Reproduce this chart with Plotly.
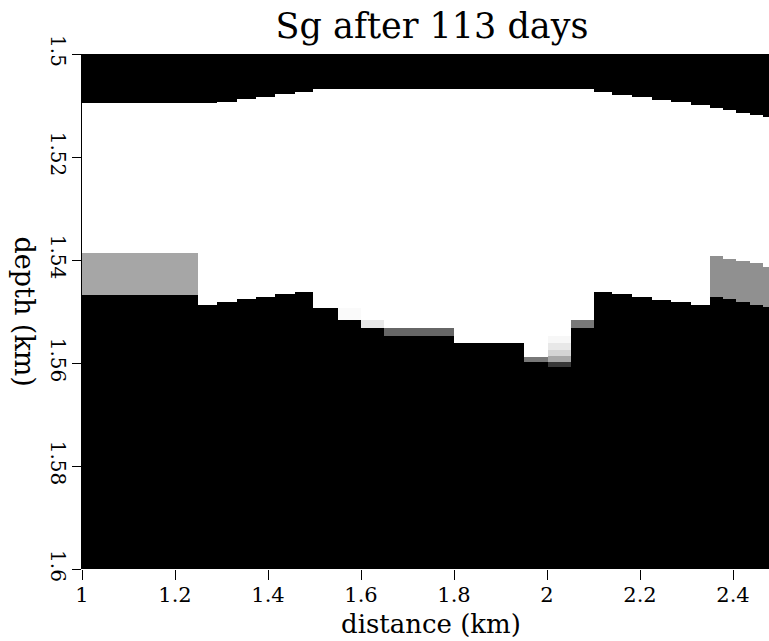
import numpy as np
import plotly.graph_objects as go

# ---- data ----
# column edges of the saturation grid (km)
x_edges = [1.0, 1.25, 1.29, 1.333, 1.3735, 1.415, 1.458, 1.4975, 1.5505, 1.6, 1.65,
           1.8005, 1.951, 2.0015, 2.051, 2.101, 2.1405, 2.1835, 2.2265, 2.266, 2.309,
           2.3515, 2.3785, 2.4075, 2.4365, 2.4645, 2.48]

# depth (km) where the gas (Sg = 1, white) region starts in each column
gas_top = [1.50957, 1.50957, 1.50926, 1.50874, 1.50829, 1.50777, 1.50732, 1.50680,
           1.50680, 1.50680, 1.50680, 1.50680, 1.50680, 1.50680, 1.50680, 1.50744,
           1.50790, 1.50841, 1.50893, 1.50938, 1.50990, 1.51043, 1.51087, 1.51140,
           1.51184, 1.51229]

# depth where a partially saturated band starts (equal to black_top -> no band)
band_top = [1.53870, 1.54874, 1.54822, 1.54763, 1.54718, 1.54666, 1.54616, 1.54926,
            1.54926, 1.55165, 1.55314, 1.55617, 1.55874, 1.55476, 1.55165, 1.54616,
            1.54666, 1.54713, 1.54771, 1.54816, 1.54874, 1.53917, 1.53975, 1.54019,
            1.54064, 1.54130]
band_sg = [0.65, 0, 0, 0, 0, 0, 0, 0, 0.98, 0.91, 0.40, 0, 0.47, 0.97, 0.47, 0,
           0, 0, 0, 0, 0, 0.565, 0.565, 0.565, 0.565, 0.565]
# depth where Sg drops to zero (black) below the gas
black_top = [1.54680, 1.54874, 1.54822, 1.54763, 1.54718, 1.54666, 1.54616, 1.54926,
             1.55165, 1.55314, 1.55476, 1.55617, 1.55975, 1.56078, 1.55326, 1.54616,
             1.54666, 1.54713, 1.54771, 1.54816, 1.54874, 1.54713, 1.54763, 1.54810,
             1.54874, 1.54918]

# graded column near 2.0 km (index 13)
grad_col = 13
grad_depths = [1.55476, 1.55610, 1.55748, 1.55864, 1.55975]
grad_sg = [0.97, 0.91, 0.83, 0.66, 0.22]

depth_range = [1.5, 1.6]
x_tickvals = [1.0, 1.2, 1.4, 1.6, 1.8, 2.0, 2.2, 2.4]
x_ticktext = ["1", "1.2", "1.4", "1.6", "1.8", "2", "2.2", "2.4"]
y_tickvals = [1.5, 1.52, 1.54, 1.56, 1.58, 1.6]
y_ticktext = ["1.5", "1.52", "1.54", "1.56", "1.58", "1.6"]

# ---- build the grid from the layer boundaries ----
ncol = len(x_edges) - 1
y_edges = sorted(set([depth_range[0], depth_range[1]] + gas_top + band_top + black_top + grad_depths))
y_edges = np.array(y_edges)
y_mid = 0.5 * (y_edges[:-1] + y_edges[1:])
z = np.zeros((len(y_mid), ncol))
for j in range(ncol):
    for i, d in enumerate(y_mid):
        if d < gas_top[j]:
            v = 0.0
        elif d < band_top[j]:
            v = 1.0
        elif d < black_top[j]:
            v = band_sg[j]
            if j == grad_col:
                for gd, gs in zip(grad_depths, grad_sg):
                    if d >= gd:
                        v = gs
        else:
            v = 0.0
        z[i, j] = v

W, H = 769, 641
L, R, T, B = 82, 0, 54, 72
pw = W - L - R
ph = H - T - B

font_family = "DejaVu Serif"

fig = go.Figure(go.Heatmap(
    x=x_edges, y=y_edges, z=z,
    colorscale=[[0, "#000000"], [1, "#ffffff"]],
    zmin=0, zmax=1, showscale=False, hoverinfo="skip",
))

fig.update_layout(
    width=W, height=H,
    margin=dict(l=L, r=R, t=T, b=B, pad=0),
    paper_bgcolor="white", plot_bgcolor="white",
    font=dict(family=font_family, color="black"),
    title=dict(text="Sg after 113 days", xref="container", yref="container",
               x=432 / W, y=1 - 26 / H, xanchor="center", yanchor="middle",
               font=dict(size=35, family=font_family, color="black")),
    showlegend=False,
)
fig.update_xaxes(range=[1.0, 1.0 + pw / 465.0], tickvals=x_tickvals, ticktext=x_ticktext,
                 ticks="outside", ticklen=10, tickwidth=1, tickcolor="black",
                 tickfont=dict(size=21, family=font_family, color="black"),
                 showgrid=False, zeroline=False, showline=False,
                 ticklabelstandoff=-3)
fig.update_yaxes(range=[1.6, 1.5], tickvals=y_tickvals, ticktext=y_ticktext,
                 ticks="outside", ticklen=9, tickwidth=1, tickcolor="black",
                 tickangle=90,
                 tickfont=dict(size=20, family=font_family, color="black"),
                 showgrid=False, zeroline=False, showline=True, linecolor="black",
                 linewidth=1, ticklabelstandoff=-3)

fig.add_annotation(text="distance (km)", xref="paper", yref="paper",
                   x=(431 - L) / pw, y=-(624 - (T + ph)) / ph,
                   xanchor="center", yanchor="middle", showarrow=False,
                   font=dict(size=26, family=font_family, color="black"))
fig.add_annotation(text="depth (km)", xref="paper", yref="paper",
                   x=(24 - L) / pw, y=0.5, textangle=90,
                   xanchor="center", yanchor="middle", showarrow=False,
                   font=dict(size=27, family=font_family, color="black"))

fig.write_html("out.html")
